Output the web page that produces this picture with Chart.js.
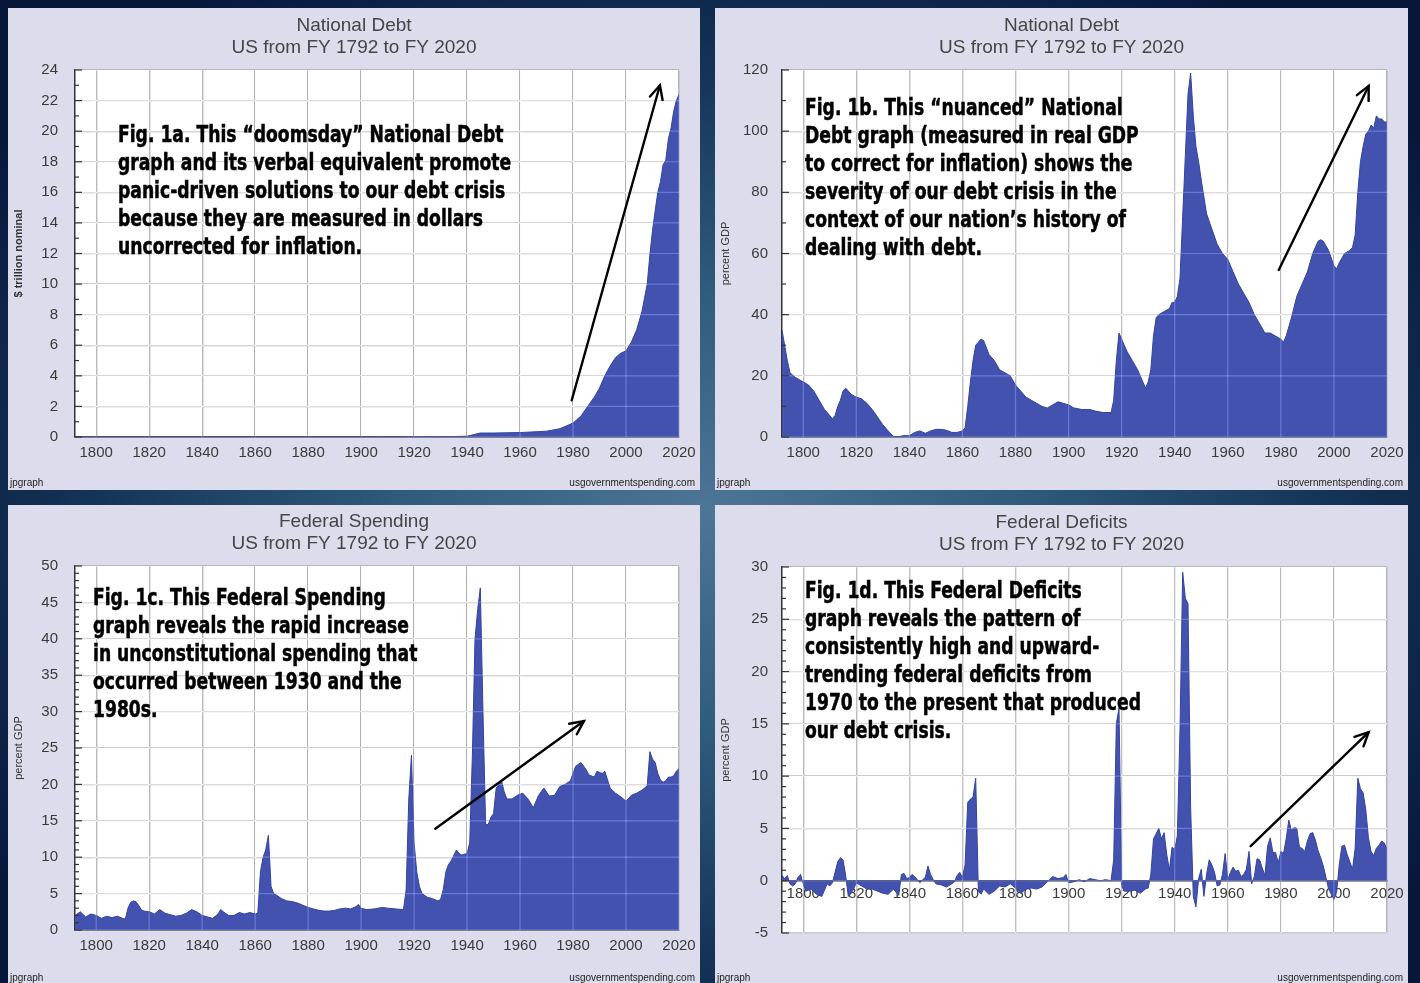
<!DOCTYPE html>
<html>
<head>
<meta charset="utf-8">
<script src="https://cdn.jsdelivr.net/npm/chart.js@4.4.1/dist/chart.umd.min.js"></script>
<style>
  body {
    margin: 0; width: 1420px; height: 983px; overflow: hidden;
    background: radial-gradient(ellipse 62% 64% at 50% 52%, #4d7595 0%, #2f5b7d 35%, #143457 70%, #06173a 100%);
    font-family: "Liberation Sans", Arial, sans-serif;
  }
  .panel { position: absolute; background: #dcdcec; }
  .panel canvas { position: absolute; left: 0; top: 0; }
  .note {
    position: absolute; white-space: nowrap; color: #000;
    font-family: "Liberation Sans Narrow", "DejaVu Sans Condensed", sans-serif;
    font-weight: bold; font-size: 23px; line-height: 28px;
    transform: scaleX(0.83); transform-origin: 0 0;
    -webkit-text-stroke: 0.5px #000;
  }
  .jp { position: absolute; font-size: 10px; color: #222; }
</style>
</head>
<body>

<div class="panel" style="left:8px;top:8px;width:692px;height:482px">
  <canvas id="c1" width="692" height="482"></canvas>
  <div class="note" style="left:110px;top:112px">Fig. 1a. This “doomsday” National Debt<br>graph and its verbal equivalent promote<br>panic-driven solutions to our debt crisis<br>because they are measured in dollars<br>uncorrected for inflation.</div>
  <div class="jp" style="left:2px;top:469px">jpgraph</div>
  <div class="jp" style="right:5px;top:469px">usgovernmentspending.com</div>
</div>

<div class="panel" style="left:715px;top:8px;width:693px;height:482px">
  <canvas id="c2" width="693" height="482"></canvas>
  <div class="note" style="left:90px;top:85px">Fig. 1b. This “nuanced” National<br>Debt graph (measured in real GDP<br>to correct for inflation) shows the<br>severity of our debt crisis in the<br>context of our nation’s history of<br>dealing with debt.</div>
  <div class="jp" style="left:2px;top:469px">jpgraph</div>
  <div class="jp" style="right:5px;top:469px">usgovernmentspending.com</div>
</div>

<div class="panel" style="left:8px;top:505px;width:692px;height:478px">
  <canvas id="c3" width="692" height="478"></canvas>
  <div class="note" style="left:85px;top:78px">Fig. 1c. This Federal Spending<br>graph reveals the rapid increase<br>in unconstitutional spending that<br>occurred between 1930 and the<br>1980s.</div>
  <div class="jp" style="left:2px;top:467px">jpgraph</div>
  <div class="jp" style="right:5px;top:467px">usgovernmentspending.com</div>
</div>

<div class="panel" style="left:715px;top:505px;width:693px;height:478px">
  <canvas id="c4" width="693" height="478"></canvas>
  <div class="note" style="left:90px;top:71px">Fig. 1d. This Federal Deficits<br>graph reveals the pattern of<br>consistently high and upward-<br>trending federal deficits from<br>1970 to the present that produced<br>our debt crisis.</div>
  <div class="jp" style="left:2px;top:467px">jpgraph</div>
  <div class="jp" style="right:5px;top:467px">usgovernmentspending.com</div>
</div>

<script>
// x axis labels shared by all four graphs
const yearTicks = [1800, 1820, 1840, 1860, 1880, 1900, 1920, 1940, 1960, 1980, 2000, 2020];

// Fig 1a - national debt, $ trillion nominal
const debtYears = [1792, 1860, 1900, 1916, 1919, 1930, 1940, 1945, 1950, 1960, 1970, 1975, 1980, 1983, 1986, 1988,
  1990, 1992, 1994, 1996, 1998, 2000, 2002, 2004, 2006, 2008, 2009, 2010, 2011, 2012, 2013, 2014, 2015, 2016,
  2017, 2018, 2019, 2020];
const debtTrillions = [0.0001, 0.0001, 0.001, 0.003, 0.027, 0.016, 0.05, 0.26, 0.26, 0.29, 0.38, 0.54, 0.91, 1.37, 2.12, 2.6,
  3.2, 4.0, 4.64, 5.18, 5.48, 5.63, 6.2, 7.0, 8.2, 10.0, 11.9, 13.5, 14.8, 16.0, 16.7, 17.8, 18.1, 19.5,
  20.2, 21.3, 22.0, 22.4];
const debtTicks = [0, 2, 4, 6, 8, 10, 12, 14, 16, 18, 20, 22, 24];

// Fig 1b - national debt, percent GDP
const debtGdpYears = [1792, 1793, 1794, 1795, 1797, 1800, 1802, 1804, 1806, 1808, 1810, 1811, 1812, 1813, 1814, 1815,
  1816, 1818, 1820, 1822, 1824, 1826, 1828, 1830, 1832, 1834, 1836, 1838, 1840, 1842, 1844, 1846, 1848, 1850,
  1852, 1854, 1856, 1858, 1860, 1861, 1862, 1863, 1864, 1865, 1866, 1867, 1868, 1870, 1872, 1874, 1876, 1878,
  1880, 1882, 1884, 1886, 1888, 1890, 1892, 1894, 1896, 1898, 1900, 1902, 1905, 1908, 1910, 1913, 1916, 1917,
  1918, 1919, 1920, 1921, 1922, 1924, 1926, 1928, 1929, 1930, 1931, 1932, 1933, 1934, 1936, 1938, 1939, 1940,
  1941, 1942, 1943, 1944, 1945, 1946, 1947, 1948, 1949, 1950, 1952, 1954, 1956, 1958, 1960, 1962, 1964, 1966,
  1968, 1970, 1972, 1974, 1976, 1978, 1980, 1981, 1982, 1984, 1986, 1988, 1990, 1992, 1994, 1995, 1996, 1998,
  2000, 2001, 2002, 2004, 2006, 2007, 2008, 2009, 2010, 2011, 2012, 2013, 2014, 2015, 2016, 2017, 2018, 2019, 2020];
const debtGdp = [35, 30, 25, 21, 19.5, 18, 17, 15, 12, 9, 7, 6, 7, 10, 12, 15,
  16, 14, 13, 12.5, 11, 9, 6.5, 4, 2, 0.2, 0.1, 0.5, 0.4, 1.5, 2, 1.2, 2, 2.5,
  2.5, 2.2, 1.5, 1.5, 2, 3, 10, 18, 25, 30, 31, 32, 31.5, 27, 25, 22, 21, 20,
  17, 15, 13, 12, 11, 10, 9.5, 10.5, 11.5, 11, 10.5, 9.5, 9, 9, 8.5, 8, 8, 12,
  25, 34, 32, 30, 28, 25, 22, 18, 16, 18, 22, 33, 39, 40, 41, 42, 44, 44,
  46, 52, 72, 92, 112, 119, 105, 95, 90, 84, 73, 68, 63, 60, 58, 54, 50, 47,
  44, 40, 37, 34, 34, 33, 32, 31, 33, 39, 46, 50, 54, 60, 64, 64.5, 64, 61,
  56, 55, 57, 60, 61, 62, 66, 80, 90, 95, 99, 100, 102, 101, 105, 104, 104, 103, 103];
const debtGdpTicks = [0, 20, 40, 60, 80, 100, 120];

// Fig 1c - federal spending, percent GDP
const spendYears = [1792, 1794, 1796, 1798, 1800, 1802, 1804, 1806, 1808, 1810, 1811, 1812, 1813, 1814, 1815, 1816,
  1817, 1818, 1820, 1822, 1824, 1826, 1828, 1830, 1832, 1834, 1836, 1838, 1840, 1842, 1844, 1846, 1847, 1848,
  1850, 1852, 1854, 1856, 1858, 1860, 1861, 1862, 1863, 1864, 1865, 1866, 1867, 1868, 1870, 1872, 1874, 1876,
  1878, 1880, 1882, 1884, 1886, 1888, 1890, 1892, 1894, 1896, 1898, 1899, 1900, 1902, 1905, 1908, 1910, 1913,
  1916, 1917, 1918, 1919, 1920, 1921, 1922, 1923, 1925, 1927, 1929, 1930, 1931, 1932, 1933, 1934, 1936, 1937,
  1938, 1940, 1941, 1942, 1943, 1944, 1945, 1946, 1947, 1948, 1949, 1950, 1951, 1952, 1953, 1954, 1955, 1957,
  1959, 1961, 1963, 1965, 1967, 1969, 1971, 1973, 1975, 1977, 1979, 1981, 1983, 1985, 1986, 1988, 1989, 1991,
  1992, 1994, 1996, 1998, 2000, 2002, 2004, 2006, 2008, 2009, 2010, 2011, 2012, 2013, 2014, 2015, 2016, 2017,
  2018, 2019, 2020];
const spendGdp = [2.0, 2.5, 1.8, 2.2, 2.0, 1.6, 1.9, 1.7, 1.9, 1.6, 1.5, 3.0, 3.8, 4.0, 3.9, 3.4,
  2.8, 2.6, 2.5, 2.2, 2.8, 2.3, 2.1, 1.9, 2.0, 2.3, 2.8, 2.5, 2.0, 1.8, 1.6, 2.2, 2.8, 2.5,
  2.0, 2.0, 2.4, 2.2, 2.4, 2.2, 2.3, 8.0, 10.0, 11.0, 13.0, 6.0, 5.0, 4.8, 4.3, 4.0, 3.9, 3.7,
  3.4, 3.1, 2.9, 2.7, 2.6, 2.6, 2.7, 2.9, 3.0, 2.9, 3.2, 3.5, 3.0, 2.8, 2.9, 3.1, 3.0, 2.9,
  2.8, 5.5, 18.0, 24.0, 12.0, 8.0, 6.0, 5.0, 4.5, 4.3, 4.0, 4.2, 5.5, 8.0, 9.0, 9.5, 11.0, 10.5,
  10.3, 10.5, 12.0, 24.0, 40.0, 44.0, 47.0, 30.0, 14.5, 14.5, 15.5, 16.0, 19.5, 20.0, 20.5, 19.0, 18.0, 18.0,
  18.5, 18.8, 18.0, 16.8, 18.5, 19.5, 18.4, 18.5, 19.7, 20.0, 20.5, 22.5, 23.0, 22.0, 21.3, 21.0, 21.8, 21.5,
  21.8, 19.5, 18.8, 18.3, 17.7, 18.5, 18.8, 19.2, 19.8, 24.5, 23.5, 23.0, 21.5, 20.6, 20.3, 20.5, 21.0, 21.0,
  21.2, 21.8, 22.2];
const spendTicks = [0, 5, 10, 15, 20, 25, 30, 35, 40, 45, 50];

// Fig 1d - federal deficits, percent GDP
const deficitYears = [1792, 1793, 1794, 1795, 1796, 1797, 1798, 1799, 1800, 1801, 1803, 1805, 1807, 1809, 1810, 1811,
  1812, 1813, 1814, 1815, 1816, 1817, 1818, 1819, 1820, 1822, 1824, 1826, 1828, 1830, 1832, 1834, 1836, 1837,
  1838, 1839, 1840, 1841, 1842, 1843, 1844, 1845, 1846, 1847, 1848, 1849, 1850, 1852, 1854, 1856, 1857, 1858,
  1859, 1860, 1861, 1862, 1863, 1864, 1865, 1866, 1867, 1868, 1870, 1872, 1874, 1876, 1878, 1880, 1882, 1884,
  1886, 1888, 1890, 1892, 1894, 1896, 1898, 1899, 1900, 1902, 1904, 1906, 1908, 1910, 1912, 1914, 1916, 1917,
  1918, 1919, 1920, 1921, 1923, 1925, 1927, 1929, 1930, 1931, 1932, 1933, 1934, 1935, 1936, 1937, 1938, 1939,
  1940, 1941, 1942, 1943, 1944, 1945, 1946, 1947, 1948, 1949, 1950, 1951, 1952, 1953, 1954, 1955, 1956, 1957,
  1958, 1959, 1960, 1961, 1962, 1963, 1964, 1965, 1966, 1967, 1968, 1969, 1970, 1971, 1972, 1973, 1974, 1975,
  1976, 1977, 1978, 1979, 1980, 1981, 1982, 1983, 1984, 1985, 1986, 1987, 1988, 1989, 1990, 1991, 1992, 1993,
  1994, 1995, 1996, 1997, 1998, 1999, 2000, 2001, 2002, 2003, 2004, 2005, 2006, 2007, 2008, 2009, 2010, 2011,
  2012, 2013, 2014, 2015, 2016, 2017, 2018, 2019, 2020];
const deficitGdp = [0.5, 0.2, 0.5, -0.3, -0.5, -0.3, 0.3, 0.6, -0.3, -1.0, -0.8, -1.3, -1.5, -0.3, -0.5, -0.2,
  0.8, 1.8, 2.2, 2.0, 0.5, -1.5, -1.2, -0.8, -0.2, -0.5, -0.8, -0.8, -1.0, -1.2, -1.3, -0.8, -1.4, 0.6,
  0.7, 0.2, 0.3, 0.6, 0.4, 0.1, -0.2, 0.1, 0.3, 1.4, 0.6, 0.1, -0.3, -0.4, -0.6, -0.3, -0.1, 0.5,
  0.8, 0.3, 1.5, 7.5, 7.8, 8.0, 9.8, -1.0, -1.3, -0.8, -1.3, -1.0, -0.5, -0.6, -0.3, -0.7, -1.2, -0.8,
  -0.7, -0.8, -0.6, -0.1, 0.4, 0.2, 0.3, 0.6, -0.2, -0.1, 0.1, -0.1, 0.2, 0.1, 0.0, 0.1, 0.0, 2.0,
  15.0, 16.5, -0.5, -1.0, -1.0, -0.9, -1.2, -0.8, -0.7, 0.6, 4.0, 4.5, 5.0, 4.0, 4.6, 2.5, 1.0, 3.2,
  3.0, 4.3, 14.5, 29.5, 27.0, 26.5, 7.0, -1.5, -2.5, 0.2, 1.1, -1.5, 0.6, 2.0, 1.5, 0.8, -0.5, -0.4,
  0.6, 2.6, 0.1, 0.8, 1.3, 0.9, 1.0, 0.4, 0.6, 1.1, 2.8, -0.3, 0.4, 2.1, 2.0, 1.2, 0.5, 3.3,
  4.1, 2.7, 2.7, 1.7, 2.8, 2.6, 4.0, 5.8, 4.8, 5.1, 5.0, 3.2, 3.1, 2.8, 3.8, 4.5, 4.6, 3.9,
  2.9, 2.2, 1.4, 0.3, -0.8, -1.3, -1.8, -1.1, 1.5, 3.3, 3.4, 2.5, 1.8, 1.1, 3.1, 9.8, 8.8, 8.4,
  6.8, 4.1, 2.8, 2.4, 3.1, 3.4, 3.8, 3.6, 3.0];
const deficitTicks = [-5, 0, 5, 10, 15, 20, 25, 30];

const subtitle = 'US from FY 1792 to FY 2020';
const blue = '#4252ae';

// white plot background, like the jpgraph originals
const plotBg = {
  id: 'plotBg',
  beforeDraw(chart) {
    const {ctx, chartArea: a} = chart;
    ctx.save();
    ctx.fillStyle = '#ffffff';
    ctx.fillRect(a.left, a.top, a.width, a.height);
    ctx.restore();
  }
};

// grid shows through the blue fill as lighter lines + minor ticks on y axis + arrow
const overlay = {
  id: 'overlay',
  afterDatasetsDraw(chart, args, opts) {
    const {ctx, chartArea: a, scales: {x, y}} = chart;
    ctx.save();
    ctx.beginPath();
    ctx.rect(a.left, a.top, a.width, a.height);
    ctx.clip();
    ctx.globalCompositeOperation = 'lighter';
    ctx.strokeStyle = 'rgb(38,38,40)';
    ctx.lineWidth = 1.2;
    x.ticks.forEach(t => {
      const px = x.getPixelForValue(t.value);
      ctx.beginPath(); ctx.moveTo(px, a.top); ctx.lineTo(px, a.bottom); ctx.stroke();
    });
    y.ticks.forEach(t => {
      const py = y.getPixelForValue(t.value);
      ctx.beginPath(); ctx.moveTo(a.left, py); ctx.lineTo(a.right, py); ctx.stroke();
    });
    ctx.restore();

    // minor ticks
    ctx.save();
    ctx.strokeStyle = '#333';
    ctx.lineWidth = 1.2;
    for (let v = y.min; v <= y.max + 1e-9; v += opts.minor) {
      const py = y.getPixelForValue(v);
      const major = y.ticks.some(t => Math.abs(t.value - v) < 1e-6);
      ctx.beginPath(); ctx.moveTo(a.left, py); ctx.lineTo(a.left + (major ? 7 : 4), py); ctx.stroke();
    }
    ctx.restore();

    // arrow
    const [x0, y0, x1, y1] = opts.arrow;
    const p0 = [x.getPixelForValue(x0), y.getPixelForValue(y0)];
    const p1 = [x.getPixelForValue(x1), y.getPixelForValue(y1)];
    const ang = Math.atan2(p1[1] - p0[1], p1[0] - p0[0]);
    ctx.save();
    ctx.strokeStyle = '#000';
    ctx.lineWidth = 2.4;
    ctx.lineCap = 'round';
    ctx.beginPath(); ctx.moveTo(p0[0], p0[1]); ctx.lineTo(p1[0], p1[1]); ctx.stroke();
    ctx.beginPath();
    ctx.moveTo(p1[0] - 15 * Math.cos(ang - 0.45), p1[1] - 15 * Math.sin(ang - 0.45));
    ctx.lineTo(p1[0], p1[1]);
    ctx.lineTo(p1[0] - 15 * Math.cos(ang + 0.45), p1[1] - 15 * Math.sin(ang + 0.45));
    ctx.stroke();
    ctx.restore();
  }
};

function makeChart(id, o) {
  const tickFont = {family: '"Liberation Sans", Arial, sans-serif', size: 15};
  return new Chart(document.getElementById(id), {
    type: 'line',
    data: {
      datasets: [{
        data: o.years.map((yr, i) => ({x: yr, y: o.values[i]})),
        fill: 'origin',
        backgroundColor: blue,
        borderColor: '#3343a2',
        borderWidth: 1,
        pointRadius: 0,
        tension: 0
      }]
    },
    options: {
      responsive: false,
      animation: false,
      layout: {padding: {bottom: o.zeroAxis ? 50 : 0}},
      plugins: {
        legend: {display: false},
        tooltip: {enabled: false},
        title: {
          display: true,
          text: [o.title, subtitle],
          color: '#454545',
          font: {family: '"Liberation Sans", Arial, sans-serif', size: 19, weight: 'normal', lineHeight: '22px'},
          padding: {top: o.titleTop, bottom: 11}
        },
        overlay: {minor: o.minor, arrow: o.arrow}
      },
      scales: {
        x: {
          type: 'linear',
          position: o.zeroAxis ? {y: 0} : 'bottom',
          min: 1792,
          max: 2020,
          afterBuildTicks: s => { s.ticks = yearTicks.map(v => ({value: v})); },
          // keep the title centred on the whole panel, but leave room right of the plot
          afterFit: s => { if (!o.zeroAxis) s.height = 53; s.paddingRight = 21; },
          ticks: {callback: v => String(v), color: '#3a3a3a', font: tickFont, padding: o.zeroAxis ? 4 : 7, maxRotation: 0, autoSkip: false},
          grid: {color: '#9c9c9c', lineWidth: 1.3, drawTicks: false},
          border: {color: '#333', width: 1.5}
        },
        y: {
          min: o.ticks[0],
          max: o.ticks[o.ticks.length - 1],
          afterBuildTicks: s => { s.ticks = o.ticks.map(v => ({value: v})); },
          afterFit: s => { s.width = 67; },
          ticks: {callback: v => String(v), color: '#3a3a3a', font: tickFont, padding: o.tickPad},
          grid: {color: '#b8b8b8', lineWidth: 1.3, drawTicks: false},
          border: {color: '#333', width: 1.5},
          title: {display: true, text: o.yTitle, color: '#333', padding: {top: 4, bottom: 0},
            font: {family: '"Liberation Sans", Arial, sans-serif', size: 11, weight: o.yBold ? 'bold' : 'normal'}}
        }
      }
    },
    plugins: [plotBg, overlay]
  });
}

makeChart('c1', {
  title: 'National Debt', years: debtYears, values: debtTrillions, ticks: debtTicks,
  yTitle: '$ trillion nominal', yBold: true, minor: 1, tickPad: 17, titleTop: 7,
  arrow: [1979.5, 2.4, 2012.8, 23.0]
});
makeChart('c2', {
  title: 'National Debt', years: debtGdpYears, values: debtGdp, ticks: debtGdpTicks,
  yTitle: 'percent GDP', minor: 10, tickPad: 14, titleTop: 7,
  arrow: [1979.2, 54.6, 2013.1, 114.8]
});
makeChart('c3', {
  title: 'Federal Spending', years: spendYears, values: spendGdp, ticks: spendTicks,
  yTitle: 'percent GDP', minor: 1, tickPad: 17, titleTop: 6,
  arrow: [1928, 13.9, 1984.1, 28.7]
});
makeChart('c4', {
  title: 'Federal Deficits', years: deficitYears, values: deficitGdp, ticks: deficitTicks,
  yTitle: 'percent GDP', minor: 1, tickPad: 14, titleTop: 7, zeroAxis: true,
  arrow: [1968.6, 3.3, 2013.1, 14.2]
});
</script>
</body>
</html>
